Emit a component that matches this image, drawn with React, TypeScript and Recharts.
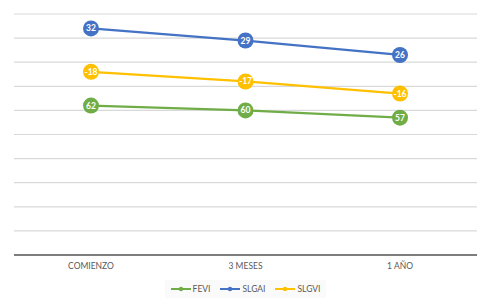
import { Area, AreaChart, CartesianGrid, Legend, XAxis, YAxis } from "recharts";

const categories = ["COMIENZO", "3 MESES", "1 AÑO"];
const fevi = [62, 60, 57];
const slgai = [32, 29, 26];
const slgvi = [-18, -17, -16];
const yTicks = [0, 10, 20, 30, 40, 50, 60, 70, 80, 90, 100];

const series = [
  { key: "fevi", name: "FEVI", color: "#70ad47" },
  { key: "slgai", name: "SLGAI", color: "#4472c4" },
  { key: "slgvi", name: "SLGVI", color: "#ffc000" },
];

const data = categories.map((label, i) => ({
  label,
  fevi: fevi[i],
  slgai: slgai[i],
  slgvi: slgvi[i],
}));

const FONT = "Lato, 'Open Sans', sans-serif";

function makeDot(color: string, dataKey: string) {
  return (props: any) => {
    const { cx, cy, payload, index } = props;
    if (cx == null || cy == null) return <g key={`${dataKey}-${index}`} />;
    return (
      <g key={`${dataKey}-${index}`}>
        <circle cx={cx} cy={cy} r={8} fill={color} />
        <text
          x={cx}
          y={cy}
          dy={3}
          textAnchor="middle"
          fill="#ffffff"
          fontSize={8.5}
          fontWeight={700}
          fontFamily={FONT}
        >
          {payload[dataKey]}
        </text>
      </g>
    );
  };
}

function LegendContent() {
  return (
    <div style={{ display: "flex", justifyContent: "center", marginTop: 3 }}>
      <div
        style={{
          display: "flex",
          alignItems: "center",
          gap: 10,
          background: "#fafafa",
          padding: "4px 6px",
          fontFamily: FONT,
          fontSize: 8.5,
          color: "#595959",
        }}
      >
        {series.map((s) => (
          <span key={s.key} style={{ display: "flex", alignItems: "center" }}>
            <svg width={20} height={8} style={{ marginRight: 2 }}>
              <line x1={0} y1={4} x2={20} y2={4} stroke={s.color} strokeWidth={2} />
              <circle cx={10} cy={4} r={2.2} fill={s.color} />
            </svg>
            {s.name}
          </span>
        ))}
      </div>
    </div>
  );
}

export default function App() {
  return (
    <div style={{ position: "absolute", left: 0, top: 0, background: "#fff" }}>
      <AreaChart
        width={491}
        height={306}
        data={data}
        margin={{ top: 14, right: 14, left: 14, bottom: 0 }}
      >
        <CartesianGrid vertical={false} stroke="#d9d9d9" strokeWidth={1.2} />
        <XAxis
          dataKey="label"
          padding={{ left: 77, right: 77 }}
          tickLine={false}
          axisLine={{ stroke: "#595959", strokeWidth: 1.5 }}
          tick={{ fontSize: 8.5, fill: "#595959", fontFamily: FONT }}
          height={22}
        />
        <YAxis hide domain={[0, 100]} ticks={yTicks} />
        <Legend
          verticalAlign="bottom"
          content={<LegendContent />}
          wrapperStyle={{ height: 29 }}
        />
        {series.map((s) => (
          <Area
            key={s.key}
            type="linear"
            dataKey={s.key}
            name={s.name}
            stackId="a"
            stroke={s.color}
            strokeWidth={2.25}
            fill="none"
            fillOpacity={0}
            dot={makeDot(s.color, s.key)}
            activeDot={false}
            isAnimationActive={false}
          />
        ))}
      </AreaChart>
    </div>
  );
}
